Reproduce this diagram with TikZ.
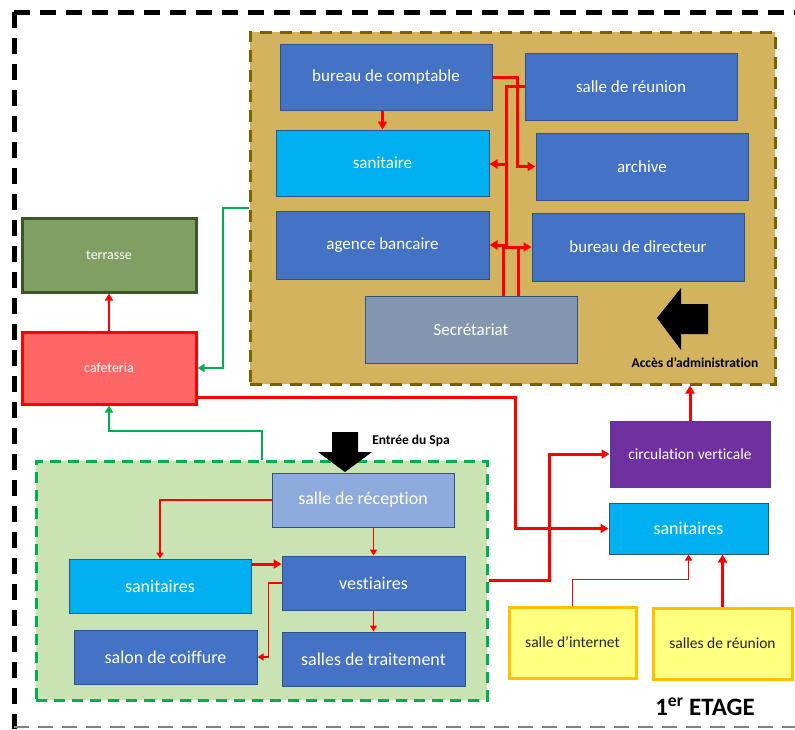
\documentclass[tikz,border=0pt]{standalone}
\usepackage{fontspec}
\setmainfont{Carlito}[Ligatures=NoCommon]
\usetikzlibrary{arrows.meta}
\definecolor{roomblue}{HTML}{4472C4}
\definecolor{edgeblue}{HTML}{2F528F}
\definecolor{skyblue}{HTML}{00B0F0}
\definecolor{secrgrey}{HTML}{8497B0}
\definecolor{recepblue}{HTML}{8FAADC}
\definecolor{adminfill}{HTML}{D4B35E}
\definecolor{adminedge}{HTML}{7F6000}
\definecolor{spafill}{HTML}{C9E3B2}
\definecolor{spaedge}{HTML}{00B050}
\definecolor{terrfill}{HTML}{7F9F63}
\definecolor{terredge}{HTML}{3B5725}
\definecolor{cafefill}{HTML}{FF6666}
\definecolor{circviolet}{HTML}{7030A0}
\definecolor{salleyellow}{HTML}{FFFF80}
\definecolor{salleedge}{HTML}{FFC000}

\begin{document}
\begin{tikzpicture}[x=1pt,y=-1pt,
      room/.style={draw=edgeblue,line width=1pt,fill=roomblue,text=white,inner sep=0pt},
      adminroom/.style={room,font=\fontsize{17}{20}\selectfont,minimum width=212pt,minimum height=67pt},
      sparoom/.style={room,font=\fontsize{18}{21}\selectfont,minimum width=183pt,minimum height=54pt},
      outerroom/.style={line width=3pt,text=white,font=\fontsize{14}{17}\selectfont,minimum width=174pt,inner sep=0pt},
      salle/.style={draw=salleedge,line width=3pt,fill=salleyellow,text=black!85,font=\fontsize{15.5}{18}\selectfont,minimum height=71pt,inner sep=0pt},
      zone/.style={line width=3pt,inner sep=0pt},
      redflow/.style={draw=red,line width=3pt,-{Triangle[length=8pt,width=9pt]}},
      thinflow/.style={draw=red,line width=1.5pt,-{Triangle[length=6pt,width=7pt]}},
      greenflow/.style={draw=spaedge,line width=2pt,-{Triangle[length=7pt,width=8pt]}}]
      \useasboundingbox (0,0) rectangle (795,729);

      % etage frame
      \draw[line width=5pt,dash pattern=on 16pt off 10pt] (14,12) -- (795,12);
      \draw[line width=5pt,dash pattern=on 16pt off 10pt] (14,12) -- (14,729);
      \draw[black!50,line width=2pt,dash pattern=on 15pt off 9pt] (14,727) -- (795,727);

      % administration
      \node[zone,draw=adminedge,fill=adminfill,dash pattern=on 12pt off 8pt,minimum width=525pt,minimum height=352pt] (admin) at (512.5,208) {};
      \node[adminroom,minimum height=66pt] (compt) at (386,77) {bureau de comptable};
      \node[adminroom] (reun) at (631,86.5) {salle de réunion};
      \node[adminroom,fill=skyblue,minimum width=213pt,minimum height=66pt] (sanA) at (382.5,163) {sanitaire};
      \node[adminroom] (arch) at (642,166.5) {archive};
      \node[adminroom,minimum width=213pt,minimum height=68pt] (banq) at (382.5,245) {agence bancaire};
      \node[adminroom,minimum height=68pt] (dir) at (638,247) {bureau de directeur};
      \node[adminroom,fill=secrgrey] (secr) at (471,329.5) {Secrétariat};
      \fill (657,318) -- (681,288) -- (681,304) -- (708,304) -- (708,334) -- (681,334) -- (681,350) -- cycle;
      \node[font=\bfseries\fontsize{13.5}{16}\selectfont] (acces) at (695,363) {Accès d’administration};

      \draw[redflow] (sanA.north |- compt.south) -- (sanA.north);
      \draw[redflow] (compt.east) -- ++(25,0) |- (arch.west);
      \draw[redflow] (reun.west) -- ++(-18,0) |- (dir.west);
      \coordinate (jA) at (507,164);
      \draw[redflow] (jA) -- (sanA.east |- jA);
      \draw[redflow] ([xshift=32pt]secr.north) |- (banq.east);
      \draw[draw=red,line width=3pt] ([xshift=47pt]secr.north) -- ([xshift=47pt]secr.north |- dir.west);

      % terrasse et cafeteria
      \node[outerroom,draw=terredge,fill=terrfill,minimum height=74pt] (terr) at (109,255) {terrasse};
      \node[outerroom,draw=red,fill=cafefill,minimum height=72pt] (cafe) at (109,368) {cafeteria};
      \draw[draw=red,line width=2pt,-{Triangle[length=7pt,width=8pt]}] (cafe.north) -- (terr.south);
      \draw[greenflow] (admin.west) -- (223,208) |- (cafe.east);

      % spa
      \node[zone,draw=spaedge,fill=spafill,dash pattern=on 11pt off 7pt,minimum width=451pt,minimum height=239pt] (spa) at (261.5,580.5) {};
      \node[sparoom,fill=recepblue,minimum width=182pt] (recep) at (363,500) {salle de réception};
      \node[sparoom,fill=skyblue,minimum width=182pt] (sanS) at (160,586) {sanitaires};
      \node[sparoom] (vest) at (373.5,583) {vestiaires};
      \node[sparoom] (coif) at (165.5,657) {salon de coiffure};
      \node[sparoom] (trait) at (373.5,659) {salles de traitement};
      \fill (332,432) -- (358,432) -- (358,452) -- (372,452) -- (345,472) -- (318,452) -- (332,452) -- cycle;
      \node[font=\bfseries\fontsize{13.5}{16}\selectfont] (entree) at (411,441) {Entrée du Spa};

      \draw[thinflow] (recep.west) -| (sanS.north);
      \draw[thinflow] (vest.north |- recep.south) -- (vest.north);
      \draw[redflow] ([yshift=22pt]sanS.east) -- ([yshift=19pt]vest.west);
      \draw[thinflow] (vest.west) -- ++(-13,0) |- (coif.east);
      \draw[thinflow] (vest.south) -- (trait.north);
      \draw[greenflow] (spa.north) -- ++(0,-29) -| (cafe.south);

      % circulation
      \node[room,fill=circviolet,font=\fontsize{15.5}{18}\selectfont,minimum width=160pt,minimum height=66pt] (circ) at (690,454) {circulation verticale};
      \node[room,fill=skyblue,font=\fontsize{18}{21}\selectfont,minimum width=159pt,minimum height=51pt] (sanR) at (688.5,528.5) {sanitaires};
      \node[salle,minimum width=127pt] (inter) at (572.5,642.5) {salle d’internet};
      \node[salle,minimum width=139pt] (reunR) at (722.5,643.5) {salles de réunion};
      \node[font=\bfseries\fontsize{25}{28}\selectfont] (etage) at (705,707) {1\textsuperscript{er} ETAGE};

      \draw[redflow] ([yshift=-29pt]cafe.east) -- (515,397) |- (sanR.west);
      \draw[redflow] (spa.east) -- ++(61,0) |- (circ.west);
      \draw[redflow] (circ.north) -- (circ.north |- admin.south);
      \draw[thinflow] (inter.north) -- ++(0,-26) -| (sanR.south);
      \draw[redflow] (reunR.north) -- (reunR.north |- sanR.south);
\end{tikzpicture}
\end{document}
